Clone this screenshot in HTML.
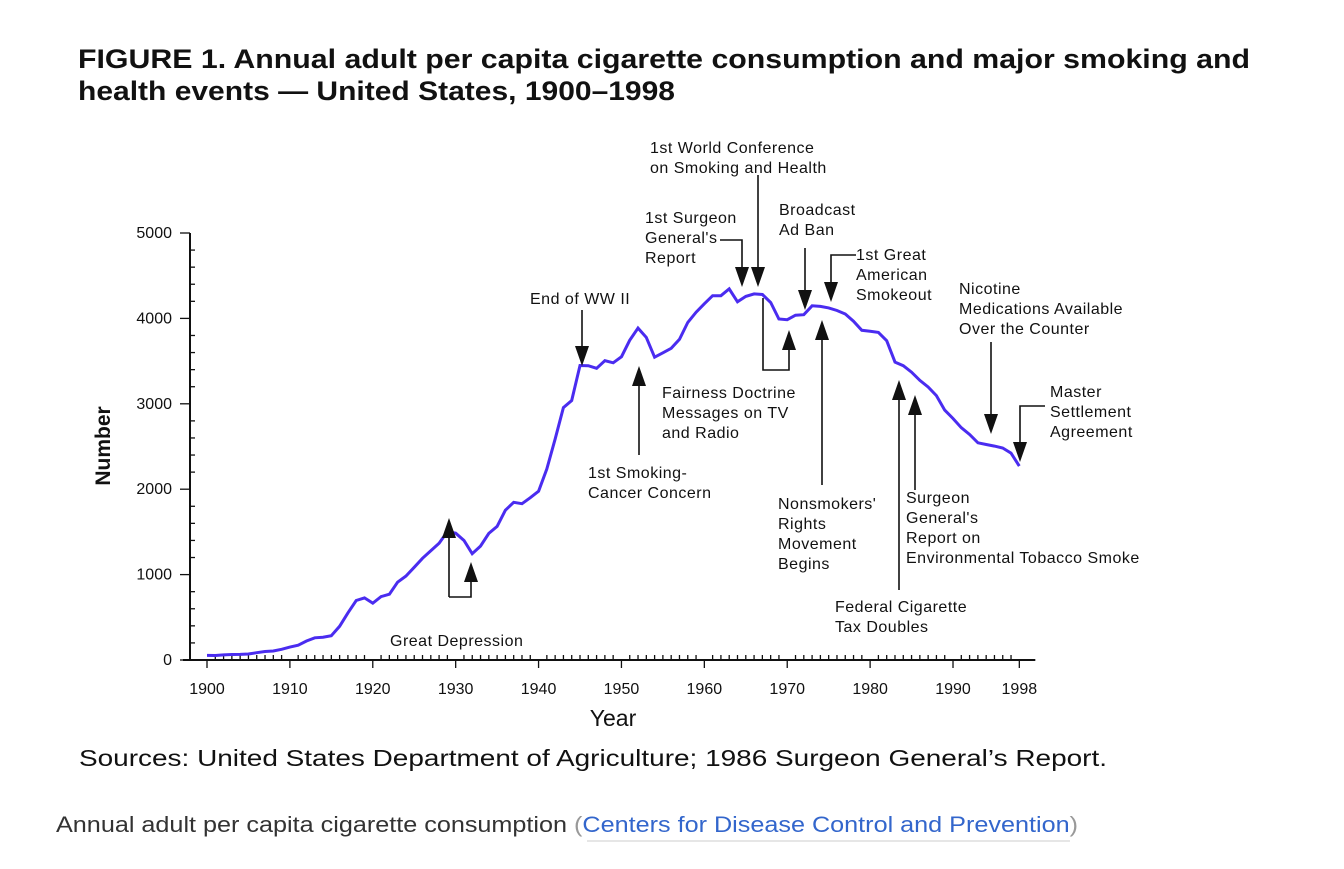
<!DOCTYPE html>
<html><head><meta charset="utf-8"><style>
body{margin:0;background:#fff;width:1344px;height:869px;overflow:hidden;font-family:"Liberation Sans",sans-serif}
svg{position:absolute;left:0;top:0}
</style></head><body>
<svg width="1344" height="869" font-family="Liberation Sans, sans-serif">
<text x="78" y="68" font-size="27" font-weight="bold" fill="#111" textLength="1172" lengthAdjust="spacingAndGlyphs">FIGURE 1. Annual adult per capita cigarette consumption and major smoking and</text>
<text x="78" y="100" font-size="27" font-weight="bold" fill="#111" textLength="597" lengthAdjust="spacingAndGlyphs">health events — United States, 1900–1998</text>
<g id="axes"></g>
<path id="line" fill="none" stroke="#4a2cf0" stroke-width="3"/>
<g id="ann" font-size="16" letter-spacing="0.5" fill="#111"></g>
<text x="613" y="726" font-size="23" text-anchor="middle" fill="#111">Year</text>
<text transform="translate(110,446) rotate(-90)" font-size="21" font-weight="bold" text-anchor="middle" fill="#111">Number</text>
<text x="79" y="766" font-size="23" fill="#111" textLength="1028" lengthAdjust="spacingAndGlyphs">Sources: United States Department of Agriculture; 1986 Surgeon General’s Report.</text>
<text x="56" y="832" font-size="22" fill="#333" textLength="1022" lengthAdjust="spacingAndGlyphs">Annual adult per capita cigarette consumption <tspan fill="#999">(</tspan><tspan fill="#3366cc">Centers for Disease Control and Prevention</tspan><tspan fill="#999">)</tspan></text>
<line x1="587" y1="841" x2="1070" y2="841" stroke="#ccc" stroke-width="1"/>
</svg>
<script>
const years=[];for(let y=1900;y<=1998;y++)years.push(y);
const values=[54,53,60,64,66,70,86,99,105,125,151,173,223,260,267,285,395,551,697,727,665,742,770,911,982,1085,1191,1279,1366,1504,1485,1399,1245,1334,1483,1564,1754,1847,1830,1900,1976,2236,2585,2956,3039,3449,3446,3416,3505,3480,3552,3744,3886,3778,3546,3597,3650,3755,3953,4073,4171,4266,4266,4345,4194,4258,4287,4280,4186,3993,3985,4037,4043,4148,4141,4123,4092,4051,3967,3861,3849,3836,3739,3488,3446,3370,3274,3197,3096,2926,2828,2720,2641,2543,2524,2505,2482,2423,2270];
const xTicks=[1900,1910,1920,1930,1940,1950,1960,1970,1980,1990,1998];
const yTicks=[0,1000,2000,3000,4000,5000];
const X=y=>207+(y-1900)*8.289;
const Y=v=>660-v*0.0854;
const NS="http://www.w3.org/2000/svg";
function mk(t,a,p){const e=document.createElementNS(NS,t);for(const k in a)e.setAttribute(k,a[k]);p.appendChild(e);return e;}
const ax=document.getElementById('axes');
let l=mk('line',{x1:X(1900)-24,y1:660,x2:X(1998)+16,y2:660,stroke:'#111','stroke-width':2},ax);

l=mk('line',{x1:190,y1:233,x2:190,y2:660,stroke:'#111','stroke-width':2},ax);

for(let y=1900;y<=1998;y++){mk('line',{x1:X(y),y1:660,x2:X(y),y2:(y%10==0||y==1998)?668:655,stroke:'#111','stroke-width':1.3},ax);}
xTicks.forEach(t=>{const e=mk('text',{x:X(t),y:694,'font-size':16,'text-anchor':'middle',fill:'#111'},ax);e.textContent=t;
});
for(let v=0;v<=5000;v+=200){mk('line',{x1:v%1000==0?180:190,y1:Y(v),x2:v%1000==0?190:195,y2:Y(v),stroke:'#111','stroke-width':1.3},ax);}
yTicks.forEach(t=>{const e=mk('text',{x:172,y:Y(t)+5,'font-size':16,'text-anchor':'end',fill:'#111'},ax);e.textContent=t;
});
document.getElementById('line').setAttribute('d',values.map((v,i)=>(i?'L':'M')+X(years[i]).toFixed(1)+','+Y(v).toFixed(1)).join(''));
const an=document.getElementById('ann');
function txt(x,y,lines){lines.forEach((s,i)=>{const e=mk('text',{x:x,y:y+i*20},an);e.textContent=s;
});}
function path(d){mk('path',{d:d,fill:'none',stroke:'#111','stroke-width':1.6},an);}
function down(x,y){mk('path',{d:`M${x-7},${y-20}L${x+7},${y-20}L${x},${y}Z`,fill:'#111'},an);}
function up(x,y){mk('path',{d:`M${x-7},${y+20}L${x+7},${y+20}L${x},${y}Z`,fill:'#111'},an);}
txt(390,646,['Great Depression']);path('M449,597V530M449,597H471V575');up(449,518);up(471,562);
txt(530,304,['End of WW II']);path('M582,310V350');down(582,366);
txt(588,478,["1st Smoking-","Cancer Concern"]);path('M639,455V380');up(639,366);
txt(662,398,['Fairness Doctrine','Messages on TV','and Radio']);path('M763,298V370H789V345');up(789,330);
txt(645,223,['1st Surgeon',"General's",'Report']);path('M720,240H742V270');down(742,287);
txt(650,153,['1st World Conference','on Smoking and Health']);path('M758,175V270');down(758,287);
txt(779,215,['Broadcast','Ad Ban']);path('M805,248V294');down(805,310);
txt(856,260,['1st Great','American','Smokeout']);path('M856,255H831V285');down(831,302);
txt(778,509,["Nonsmokers'",'Rights','Movement','Begins']);path('M822,485V335');up(822,320);
txt(835,612,['Federal Cigarette','Tax Doubles']);path('M899,590V395');up(899,380);
txt(906,503,['Surgeon',"General's",'Report on','Environmental Tobacco Smoke']);path('M915,490V410');up(915,395);
txt(959,294,['Nicotine','Medications Available','Over the Counter']);path('M991,342V418');down(991,434);
txt(1050,397,['Master','Settlement','Agreement']);path('M1045,406H1020V446');down(1020,462);
</script>
</body></html>
